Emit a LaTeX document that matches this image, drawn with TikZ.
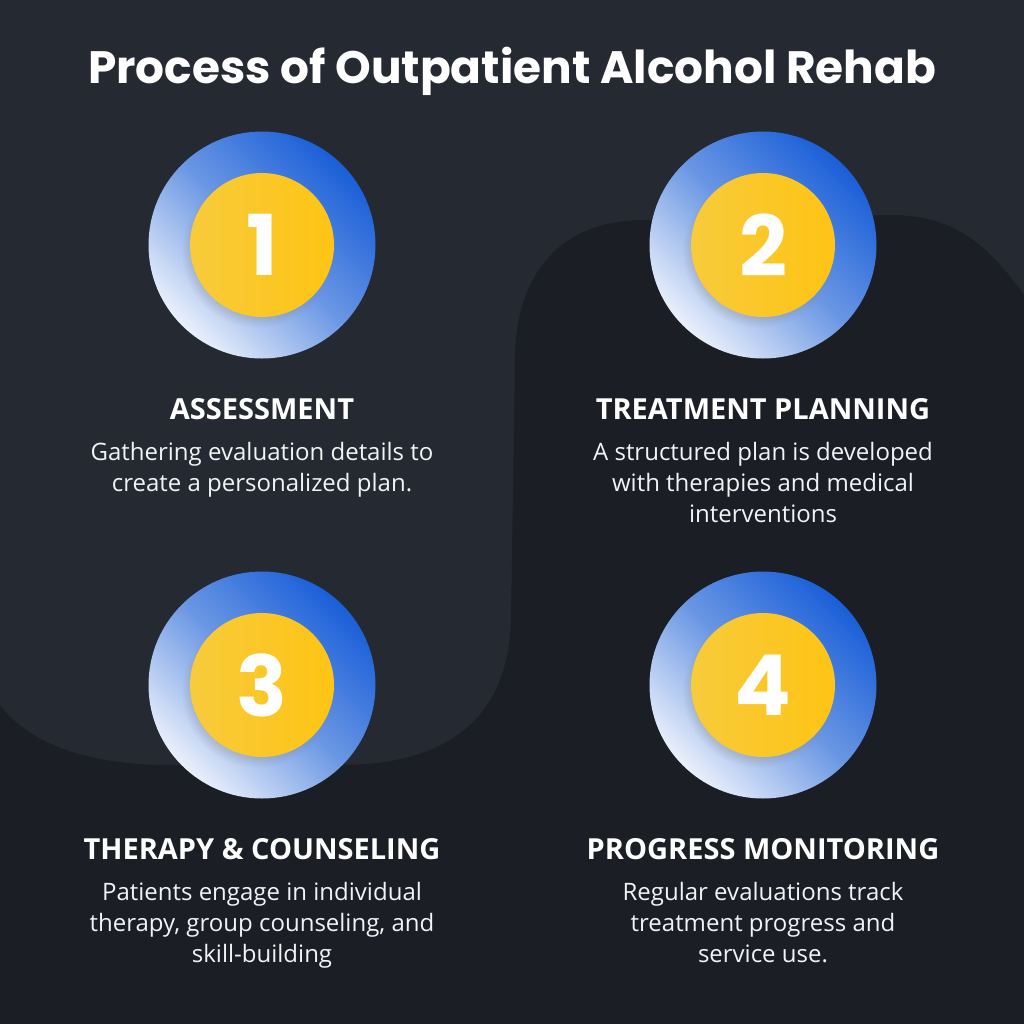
\documentclass[tikz,border=0pt]{standalone}
\usepackage{fontspec}
\setmainfont{Open Sans}
\newfontfamily\titlefont{Poppins}
\usepackage{xcolor}
\definecolor{bglight}{HTML}{252932}
\definecolor{bgdark}{HTML}{1B1E24}
\definecolor{ringdark}{HTML}{1A5FD8}
\definecolor{ringmid}{HTML}{6C98E4}
\definecolor{ringlight}{HTML}{EAF0FB}
\definecolor{sunlight}{HTML}{F7CB3C}
\definecolor{sundark}{HTML}{FFC414}
\definecolor{textgray}{HTML}{F2F3F5}
\usepackage{tikz}
\usetikzlibrary{positioning,shadows}
\tikzset{
  ring/.style={circle,minimum size=113.5pt,inner sep=0pt,top color=ringdark,bottom color=ringlight,middle color=ringmid,shading angle=-45},
  badge/.style={circle,minimum size=72pt,inner sep=0pt,left color=sunlight,right color=sundark,text=white,
    font=\titlefont\bfseries\fontsize{42}{42}\selectfont,
    circular drop shadow={shadow xshift=-2pt,shadow yshift=-3pt,opacity=0.3,shadow scale=1.06}},
  stephead/.style={text=white,font=\bfseries\fontsize{14.5}{16}\selectfont,inner sep=0pt,text height=10.4pt,text depth=0pt},
  stepdesc/.style={text=textgray,align=center,font=\fontsize{12}{15.5}\selectfont,inner sep=0pt},
}

\begin{document}
\begin{tikzpicture}[x=0.5pt,y=-0.5pt]
\useasboundingbox (0,0) rectangle (1024,1024);
% background panels
\fill[bglight] (0,0) rectangle (1024,1024);
\fill[bgdark] (1024,295) .. controls (985,240) and (950,215) .. (890,215) -- (640,220)
  .. controls (555,222) and (515,280) .. (515,360) -- (511,620)
  .. controls (508,725) and (440,765) .. (340,765) -- (170,765)
  .. controls (90,765) and (30,745) .. (0,705) -- (0,1024) -- (1024,1024) -- cycle;

\node[text=white,anchor=base,font=\titlefont\bfseries\fontsize{22.7}{26}\selectfont] (title) at (512,83) {Process of Outpatient Alcohol Rehab};

% step circles
\node[ring] (ring1) at (262,245) {};
\node[ring] (ring2) at (763,245) {};
\node[ring] (ring3) at (262,685) {};
\node[ring] (ring4) at (763,685) {};
\node[badge] (num1) at (ring1) {1};
\node[badge] (num2) at (ring2) {2};
\node[badge] (num3) at (ring3) {3};
\node[badge] (num4) at (ring4) {4};

% headings and descriptions
\node[stephead,below=19.5pt of ring1] (head1) {ASSESSMENT};
\node[stephead,below=19.5pt of ring2] (head2) {TREATMENT PLANNING};
\node[stephead,below=19.5pt of ring3] (head3) {THERAPY \& COUNSELING};
\node[stephead,below=19.5pt of ring4] (head4) {PROGRESS MONITORING};
\node[stepdesc,below=11pt of head1] (desc1) {Gathering evaluation details to\\create a personalized plan.};
\node[stepdesc,below=11pt of head2] (desc2) {A structured plan is developed\\with therapies and medical\\interventions};
\node[stepdesc,below=11pt of head3] (desc3) {Patients engage in individual\\therapy, group counseling, and\\skill-building};
\node[stepdesc,below=11pt of head4] (desc4) {Regular evaluations track\\treatment progress and\\service use.};
\end{tikzpicture}
\end{document}
